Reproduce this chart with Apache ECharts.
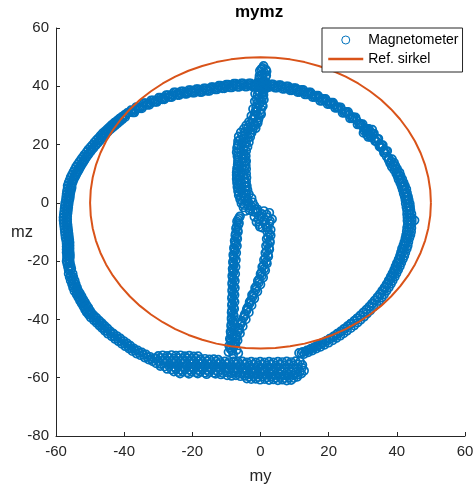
<!DOCTYPE html>
<html><head><meta charset="utf-8">
<script src="https://cdn.jsdelivr.net/npm/echarts@6/dist/echarts.min.js"></script>
<style>html,body{margin:0;padding:0;background:#fff}#c{width:476px;height:492px}</style>
</head><body><div id="c"></div>
<script>
// Magnetometer samples [my, mz], by region
const outerTop = [[-38.0,31.8],[-37.0,31.0],[-35.9,32.9],[-34.8,32.4],[-33.7,34.2],[-32.6,33.6],[-31.5,35.2],[-30.4,34.6],[-29.3,36.1],[-28.2,35.5],[-27.1,37.0],[-26.0,36.3],[-24.9,37.9],[-23.8,37.0],[-22.7,38.3],[-21.6,37.4],[-20.5,38.7],[-19.4,37.8],[-18.3,39.0],[-17.2,38.0],[-16.1,39.3],[-15.0,38.4],[-13.9,39.7],[-12.8,38.9],[-11.7,40.2],[-10.6,39.3],[-9.5,40.6],[-8.4,39.6],[-7.3,40.9],[-6.2,39.8],[-5.1,41.0],[-4.0,39.9],[-2.9,41.0],[-1.8,39.9],[-0.7,40.9],[0.4,39.8],[1.5,40.9],[2.6,39.7],[3.7,40.7],[4.8,39.5],[5.9,40.4],[7.0,39.1],[8.1,40.0],[9.2,38.6],[10.3,39.4],[11.4,38.0],[12.5,38.8],[13.6,37.2],[14.7,37.9],[15.8,36.3],[16.9,36.8],[18.0,35.0],[19.1,35.7],[20.2,33.9],[21.3,34.4],[22.4,32.6],[23.5,32.8],[24.6,30.9],[25.7,31.2],[26.8,29.0],[27.9,29.3],[29.0,26.9],[30.0,27.0],[31.0,24.6],[31.8,25.4],[32.6,22.6],[33.3,23.8],[33.9,21.2],[34.6,22.0],[35.2,19.3],[35.9,19.8],[36.5,17.2],[37.2,17.8],[31.2,23.4],[32.2,24.4],[30.6,25.6],[32.8,25.1],[31.6,22.6],[30.2,24.0]];
const outerTop2 = [[-37.45,31.0],[-36.45,32.9],[-35.35,32.4],[-34.25,34.2],[-33.15,33.6],[-32.05,35.2],[-30.95,34.6],[-29.85,36.1],[-28.75,35.5],[-27.65,37.0],[-26.55,36.3],[-25.45,37.9],[-24.35,37.0],[-23.25,38.3],[-22.15,37.4],[-21.05,38.7],[-19.95,37.8],[-18.85,39.0],[-17.75,38.0],[-16.65,39.3],[-15.55,38.4],[-14.45,39.7],[-13.35,38.9],[-12.25,40.2],[-11.15,39.3],[-10.05,40.6],[-8.95,39.6],[-7.85,40.9],[-6.75,39.8],[-5.65,41.0],[-4.55,39.9],[-3.45,41.0],[-2.35,39.9],[-1.25,40.9],[-0.15,39.8],[0.95,40.9],[2.05,39.7],[3.15,40.7],[4.25,39.5],[5.35,40.4],[6.45,39.1],[7.55,40.0],[8.65,38.6],[9.75,39.4],[10.85,38.0],[11.95,38.8],[13.05,37.2],[14.15,37.9],[15.25,36.3],[16.35,36.8],[17.45,35.0],[18.55,35.7],[19.65,33.9],[20.75,34.4],[21.85,32.6],[22.95,32.8],[24.05,30.9],[25.15,31.2],[26.25,29.0],[27.35,29.3],[28.45,26.9],[29.5,27.0],[30.5,24.6],[31.4,25.4],[32.2,22.6],[32.95,23.8],[33.6,21.2],[34.25,22.0],[34.9,19.3],[35.55,19.8],[36.2,17.2],[36.85,17.8]];
const outerTopMid = [[-37.8,31.3],[-36.7,31.9],[-35.6,32.6],[-34.5,33.1],[-33.4,33.8],[-32.3,34.3],[-31.2,34.8],[-30.1,35.2],[-29.0,35.7],[-27.9,36.1],[-26.8,36.5],[-25.7,37.0],[-24.6,37.3],[-23.5,37.6],[-22.4,37.8],[-21.3,38.0],[-20.2,38.2],[-19.1,38.4],[-18.0,38.5],[-16.9,38.7],[-15.8,38.8],[-14.7,39.1],[-13.6,39.3],[-12.5,39.5],[-11.4,39.7],[-10.3,40.0],[-9.2,40.1],[-8.1,40.2],[-7.0,40.4],[-5.9,40.4],[-4.8,40.5],[-3.7,40.5],[-2.6,40.4],[-1.5,40.5],[-0.4,40.3],[0.7,40.4],[1.8,40.3],[2.9,40.2],[4.0,40.1],[5.1,39.9],[6.2,39.8],[7.3,39.5],[8.4,39.3],[9.5,39.0],[10.6,38.8],[11.7,38.4],[12.8,38.0],[13.9,37.6],[15.0,37.2],[16.1,36.6],[17.2,36.1],[18.3,35.4],[19.4,34.9],[20.5,34.2],[21.6,33.6],[22.7,32.8],[23.8,32.0],[24.9,31.2],[26.0,30.3],[27.1,29.3],[28.2,28.3],[29.2,27.1],[30.1,26.0],[31.0,25.0],[31.8,23.9],[32.6,23.0],[33.4,22.0],[34.1,21.0],[34.8,20.0],[35.5,18.9],[36.2,17.9]];
const outerRight = [[37.0,15.9],[38.6,15.0],[38.0,13.6],[39.6,12.7],[39.2,11.3],[40.8,10.4],[40.2,9.1],[41.6,8.1],[41.0,6.8],[42.4,5.8],[41.7,4.5],[43.0,3.4],[42.3,2.2],[43.5,1.0],[42.6,-0.2],[43.9,-1.4],[43.0,-2.6],[44.3,-3.8],[43.1,-5.0],[44.4,-6.2],[45.2,-6.0],[43.2,-7.4],[44.3,-8.6],[42.9,-9.8],[44.0,-11.0],[42.5,-12.2],[43.4,-13.4],[41.9,-14.6],[42.9,-15.8],[41.2,-17.0],[42.2,-18.2],[40.5,-19.4],[41.3,-20.6],[39.6,-21.8],[40.4,-23.0],[38.7,-24.2],[39.4,-25.4],[37.6,-26.6],[38.3,-27.8],[36.4,-29.0],[37.0,-30.2],[35.0,-31.3],[35.6,-32.5],[33.5,-33.5],[34.0,-34.8],[31.9,-35.6],[32.2,-37.0],[30.2,-37.6],[30.4,-39.1],[28.4,-39.6],[28.5,-41.1],[26.5,-41.5],[26.5,-43.0],[24.6,-43.3],[24.4,-44.8],[22.6,-45.0],[22.3,-46.4],[20.5,-46.6],[20.0,-48.0],[18.3,-48.0],[17.6,-49.4],[16.0,-49.4],[15.2,-50.7],[13.6,-50.6],[12.8,-51.9],[11.3,-51.5]];
const outerRight2 = [[37.6,14.7],[39.2,13.8],[38.5,12.4],[40.1,11.6],[39.8,10.1],[41.1,9.3],[40.5,8.0],[42.0,6.9],[41.4,5.6],[42.8,4.7],[42.0,3.2],[43.3,2.1],[42.5,1.0],[43.8,-0.3],[42.8,-1.5],[44.0,-2.5],[43.0,-3.9],[44.4,-5.1],[43.1,-6.1],[44.3,-7.3],[43.0,-8.5],[44.2,-9.9],[42.7,-11.1],[43.7,-12.1],[42.2,-13.5],[43.2,-14.7],[41.5,-15.7],[42.5,-17.1],[40.9,-18.2],[41.8,-19.3],[40.0,-20.7],[40.9,-21.8],[39.2,-23.0],[39.9,-24.2],[38.2,-25.3],[38.8,-26.7],[37.0,-27.9],[37.7,-29.0],[35.7,-30.1],[36.3,-31.4],[34.3,-32.4],[34.8,-33.7],[32.7,-34.6],[33.1,-35.8],[31.1,-36.6],[31.3,-38.0],[29.3,-38.6],[29.4,-40.1],[27.5,-40.5],[27.5,-42.1],[25.6,-42.4],[25.4,-43.9],[23.6,-44.2],[23.4,-45.6],[21.6,-45.8],[21.2,-47.2],[19.4,-47.3],[18.8,-48.7],[17.2,-48.7],[16.4,-50.0],[14.8,-50.0],[14.0,-51.3],[12.4,-51.1]];
const outerRightMid = [[37.6,15.4],[38.3,14.2],[38.9,13.0],[39.5,11.8],[40.1,10.6],[40.6,9.4],[41.0,8.2],[41.5,7.0],[41.8,5.8],[42.2,4.6],[42.5,3.4],[42.8,2.2],[43.0,1.0],[43.2,-0.2],[43.4,-1.4],[43.6,-2.6],[43.7,-3.8],[43.8,-5.0],[43.8,-6.2],[43.8,-7.4],[43.7,-8.6],[43.5,-9.8],[43.3,-11.0],[43.0,-12.2],[42.7,-13.4],[42.4,-14.6],[42.1,-15.8],[41.7,-17.0],[41.3,-18.2],[40.9,-19.4],[40.5,-20.6],[40.1,-21.8],[39.6,-23.0],[39.1,-24.2],[38.5,-25.4],[37.9,-26.6],[37.3,-27.8],[36.6,-29.0],[35.9,-30.2],[35.2,-31.3],[34.4,-32.4],[33.6,-33.5],[32.8,-34.6],[32.0,-35.7],[31.1,-36.7],[30.2,-37.7],[29.3,-38.7],[28.4,-39.6],[27.5,-40.5],[26.5,-41.4],[25.5,-42.3],[24.5,-43.2],[23.5,-44.1],[22.5,-44.9],[21.4,-45.8],[20.3,-46.6],[19.2,-47.4],[18.0,-48.2],[16.8,-49.0],[15.6,-49.7],[14.4,-50.4],[13.2,-51.0],[12.0,-51.6]];
const outerLeft = [[-39.1,30.9],[-39.7,29.4],[-40.7,29.5],[-41.2,28.0],[-42.1,28.2],[-42.6,26.6],[-43.6,26.8],[-44.0,25.2],[-44.9,25.4],[-45.3,23.7],[-46.3,23.9],[-46.5,22.2],[-47.5,22.3],[-47.7,20.6],[-48.7,20.8],[-48.9,19.0],[-49.9,19.1],[-50.0,17.4],[-51.0,17.5],[-51.0,15.8],[-52.1,15.8],[-51.9,14.1],[-53.1,14.1],[-52.8,12.4],[-54.1,12.4],[-53.6,10.7],[-54.9,10.6],[-54.4,8.9],[-55.7,8.8],[-55.1,7.1],[-56.3,6.9],[-55.4,5.2],[-56.6,5.0],[-55.8,3.3],[-56.9,3.0],[-56.0,1.4],[-57.1,1.0],[-56.3,-0.6],[-57.4,-1.0],[-56.5,-2.6],[-57.6,-3.0],[-56.7,-4.6],[-57.8,-5.0],[-56.7,-6.6],[-57.7,-7.0],[-56.5,-8.6],[-57.5,-9.0],[-56.3,-10.6],[-57.3,-11.0],[-56.1,-12.6],[-57.0,-13.0],[-56.0,-14.6],[-56.9,-15.0],[-56.0,-16.6],[-56.9,-17.0],[-55.9,-18.6],[-56.8,-19.0],[-55.9,-20.6],[-56.7,-21.0],[-55.5,-22.6],[-56.3,-23.0]];
const outerLeft2 = [[-39.9,30.2],[-40.5,28.7],[-41.4,28.9],[-41.9,27.3],[-42.9,27.5],[-43.3,25.9],[-44.2,26.1],[-44.7,24.5],[-45.6,24.6],[-45.9,22.9],[-46.9,23.1],[-47.1,21.4],[-48.1,21.6],[-48.3,19.8],[-49.3,19.9],[-49.5,18.2],[-50.5,18.3],[-50.5,16.6],[-51.6,16.6],[-51.5,14.9],[-52.6,15.0],[-52.4,13.2],[-53.6,13.3],[-53.2,11.5],[-54.5,11.5],[-54.0,9.8],[-55.3,9.7],[-54.8,8.0],[-56.0,7.8],[-55.4,6.1],[-56.6,5.9],[-55.6,4.2],[-56.8,4.0],[-55.9,2.3],[-57.0,2.0],[-56.2,0.4],[-57.3,0.0],[-56.4,-1.6],[-57.5,-2.0],[-56.6,-3.6],[-57.7,-4.0],[-56.7,-5.6],[-57.8,-6.0],[-56.6,-7.6],[-57.6,-8.0],[-56.4,-9.6],[-57.4,-10.0],[-56.2,-11.6],[-57.2,-12.0],[-56.0,-13.6],[-56.9,-14.0],[-56.0,-15.6],[-56.9,-16.0],[-55.9,-17.6],[-56.8,-18.0],[-56.0,-19.6],[-56.9,-20.0],[-55.7,-21.6],[-56.5,-22.0]];
const outerLeftMid = [[-38.6,31.0],[-39.5,30.2],[-40.4,29.4],[-41.3,28.5],[-42.2,27.6],[-43.0,26.7],[-43.9,25.7],[-44.8,24.7],[-45.6,23.8],[-46.3,22.8],[-47.0,21.8],[-47.7,20.8],[-48.4,19.8],[-49.1,18.8],[-49.8,17.8],[-50.5,16.8],[-51.1,15.8],[-51.7,14.7],[-52.3,13.7],[-52.9,12.6],[-53.4,11.5],[-53.9,10.4],[-54.4,9.3],[-54.9,8.2],[-55.3,7.0],[-55.6,5.8],[-55.9,4.6],[-56.1,3.4],[-56.3,2.2],[-56.4,1.0],[-56.6,-0.2],[-56.7,-1.4],[-56.8,-2.6],[-56.9,-3.8],[-57.0,-5.0],[-57.0,-6.2],[-56.9,-7.4],[-56.8,-8.6],[-56.7,-9.8],[-56.6,-11.0],[-56.5,-12.2],[-56.4,-13.4],[-56.4,-14.6],[-56.4,-15.8],[-56.4,-17.0],[-56.3,-18.2],[-56.2,-19.4],[-56.1,-20.6],[-55.9,-21.8],[-55.8,-23.0]];
const lowerLeft = [[-56.3,-24.3],[-54.9,-25.5],[-55.7,-26.7],[-54.2,-27.9],[-55.0,-29.1],[-53.5,-30.1],[-54.0,-31.4],[-52.5,-32.0],[-53.0,-33.5],[-51.5,-34.1],[-52.0,-35.5],[-50.5,-36.0],[-51.0,-37.6],[-49.6,-37.8],[-49.8,-39.4],[-48.1,-39.5],[-48.1,-41.2],[-46.5,-41.3],[-46.5,-43.0],[-44.9,-43.1],[-44.8,-44.9],[-43.1,-44.9],[-42.7,-46.7],[-41.1,-46.5],[-40.7,-48.4],[-39.1,-48.2],[-38.6,-50.0],[-37.2,-49.9],[-36.4,-51.7],[-34.8,-51.3],[-34.0,-53.1],[-32.4,-52.8],[-31.6,-54.4]];
const lowerLeft2 = [[-55.1,-24.3],[-56.0,-25.5],[-54.5,-26.7],[-55.3,-27.9],[-53.8,-29.1],[-54.6,-30.3],[-53.0,-31.0],[-53.5,-32.4],[-52.0,-33.1],[-52.5,-34.5],[-51.0,-35.1],[-51.5,-36.6],[-50.0,-37.0],[-50.4,-38.4],[-48.9,-38.6],[-48.9,-40.3],[-47.3,-40.4],[-47.3,-42.1],[-45.7,-42.2],[-45.7,-43.9],[-44.0,-44.1],[-43.7,-45.8],[-42.1,-45.7],[-41.7,-47.5],[-40.1,-47.4],[-39.7,-49.2],[-38.2,-49.0],[-37.6,-50.9],[-36.0,-50.6],[-35.2,-52.3],[-33.6,-52.0],[-32.8,-53.8],[-31.2,-53.4]];
const lowerLeftMid = [[-55.6,-24.9],[-55.3,-26.1],[-54.9,-27.3],[-54.6,-28.5],[-54.2,-29.6],[-53.8,-30.7],[-53.3,-31.7],[-52.8,-32.7],[-52.3,-33.8],[-51.8,-34.8],[-51.3,-35.8],[-50.8,-36.8],[-50.3,-37.7],[-49.7,-38.5],[-48.9,-39.4],[-48.1,-40.3],[-47.3,-41.2],[-46.5,-42.1],[-45.7,-43.0],[-44.9,-44.0],[-43.9,-44.9],[-42.9,-45.8],[-41.9,-46.6],[-40.9,-47.4],[-39.9,-48.3],[-38.9,-49.1],[-37.9,-50.0],[-36.8,-50.7],[-35.6,-51.4],[-34.4,-52.1],[-33.2,-52.9],[-32.0,-53.6]];
const bottomBand = [[-30.0,-52.5],[-28.7,-52.3],[-27.4,-52.5],[-26.1,-52.2],[-24.8,-52.4],[-23.5,-52.3],[-22.2,-52.6],[-20.9,-52.4],[-19.6,-52.7],[-18.3,-52.6],
[-30.6,-53.3],[-29.3,-53.2],[-28.0,-53.4],[-26.7,-53.2],[-25.4,-53.4],[-24.1,-53.3],[-22.8,-53.5],[-21.5,-53.3],[-20.2,-53.5],[-18.9,-53.4],[-17.6,-53.6],[-16.3,-53.5],[-15.0,-53.7],[-13.7,-53.6],[-12.4,-53.8],
[-30.0,-54.3],[-28.7,-54.1],[-27.4,-54.4],[-26.1,-54.2],[-24.8,-54.4],[-23.5,-54.2],[-22.2,-54.4],[-20.9,-54.2],[-19.6,-54.5],[-18.3,-54.3],[-17.0,-54.5],[-15.7,-54.3],[-14.4,-54.6],[-13.1,-54.4],[-11.8,-54.6],[-10.5,-54.4],[-9.2,-54.6],[-7.9,-54.4],[-6.6,-54.6],[-5.3,-54.4],[-4.0,-54.7],[-2.7,-54.5],[-1.4,-54.7],[-0.1,-54.5],[1.2,-54.7],[2.5,-54.5],[3.8,-54.7],[5.1,-54.5],[6.4,-54.6],[7.7,-54.4],[9.0,-54.6],[10.3,-54.3],[11.6,-54.5],
[-30.6,-55.1],[-29.3,-55.3],[-28.0,-55.0],[-26.7,-55.3],[-25.4,-55.1],[-24.1,-55.3],[-22.8,-55.1],[-21.5,-55.4],[-20.2,-55.2],[-18.9,-55.4],[-17.6,-55.2],[-16.3,-55.5],[-15.0,-55.3],[-13.7,-55.5],[-12.4,-55.3],[-11.1,-55.5],[-9.8,-55.3],[-8.5,-55.6],[-7.2,-55.4],[-5.9,-55.6],[-4.6,-55.4],[-3.3,-55.7],[-2.0,-55.5],[-0.7,-55.7],[0.6,-55.5],[1.9,-55.7],[3.2,-55.5],[4.5,-55.8],[5.8,-55.5],[7.1,-55.7],[8.4,-55.5],[9.7,-55.7],[11.0,-55.4],[12.3,-55.6],
[-29.4,-56.0],[-28.1,-56.2],[-26.8,-56.0],[-25.5,-56.3],[-24.2,-56.1],[-22.9,-56.3],[-21.6,-56.1],[-20.3,-56.4],[-19.0,-56.2],[-17.7,-56.4],[-16.4,-56.2],[-15.1,-56.5],[-13.8,-56.3],[-12.5,-56.5],[-11.2,-56.3],[-9.9,-56.6],[-8.6,-56.4],[-7.3,-56.6],[-6.0,-56.4],[-4.7,-56.7],[-3.4,-56.5],[-2.1,-56.7],[-0.8,-56.5],[0.5,-56.8],[1.8,-56.6],[3.1,-56.8],[4.4,-56.6],[5.7,-56.9],[7.0,-56.7],[8.3,-56.9],[9.6,-56.6],[10.9,-56.8],[12.2,-56.5],
[-27.4,-57.0],[-26.1,-57.2],[-24.8,-57.0],[-23.5,-57.3],[-22.2,-57.1],[-20.9,-57.3],[-19.6,-57.1],[-18.3,-57.4],[-17.0,-57.2],[-15.7,-57.4],[-14.4,-57.2],[-13.1,-57.5],[-11.8,-57.3],[-10.5,-57.5],[-9.2,-57.3],[-7.9,-57.6],[-6.6,-57.4],[-5.3,-57.7],[-4.0,-57.5],[-2.7,-57.8],[-1.4,-57.6],[-0.1,-57.9],[1.2,-57.7],[2.5,-58.0],[3.8,-57.8],[5.1,-58.1],[6.4,-57.9],[7.7,-58.2],[9.0,-58.0],[10.3,-58.2],[11.6,-57.9],[12.8,-57.6],
[-25.4,-57.9],[-24.1,-58.1],[-22.8,-57.9],[-21.5,-58.2],[-20.2,-58.0],[-18.9,-58.2],[-17.6,-58.0],[-16.3,-58.3],[-15.0,-58.1],[-13.7,-58.3],[-12.4,-58.1],[-11.1,-58.4],[-9.8,-58.2],[-8.5,-58.5],[-7.2,-58.3],[-5.9,-58.6],[-4.6,-58.5],[-3.3,-58.8],[-2.0,-58.6],[-0.7,-58.9],[0.6,-58.7],[1.9,-59.0],[3.2,-58.8],[4.5,-59.1],[5.8,-58.9],[7.1,-59.2],[8.4,-59.0],[9.7,-59.2],[11.0,-58.9],[12.0,-58.6],
[-23.6,-58.6],[-21.0,-58.7],[-18.4,-58.6],[-15.8,-58.8],[-13.2,-58.7],[-11.6,-58.9],
[-9.8,-59.2],[-8.5,-59.4],[-7.2,-59.2],[-5.9,-59.5],[-4.6,-59.4],[-3.3,-59.7],[-2.0,-59.5],[-0.7,-59.8],[0.6,-59.6],[1.9,-59.9],[3.2,-59.7],[4.5,-60.0],[5.8,-59.8],[7.1,-60.1],[8.4,-59.9],[9.7,-60.1],[10.8,-59.7],
[-4.0,-60.3],[-2.7,-60.5],[-1.4,-60.4],[-0.1,-60.7],[1.2,-60.5],[2.5,-60.8],[3.8,-60.6],[5.1,-60.9],[6.4,-60.7],[7.7,-61.0],[9.0,-60.8]];
const innerColumn = [[0.6,46.3],[1.6,45.7],[-0.2,45.3],[1.2,44.6],[0.2,43.9],[1.5,43.2],[-0.4,42.6],[1.0,41.9],[-0.6,41.2],[1.3,40.5],[-0.4,39.8],[1.0,39.1],[-0.7,38.4],[0.8,37.7],[-0.9,37.0],[0.6,36.3],[-1.1,35.6],[0.4,34.9],[-1.0,34.2],[0.5,33.5],[-1.3,32.8],[0.2,32.1],[-1.5,31.4],[-0.1,30.7],[-1.8,30.0],[-0.5,29.3],[-2.4,28.6],[-1.0,27.9],[-3.0,27.2],[-1.6,26.5],[-3.7,25.8],[-2.3,25.1],[-4.5,24.4],[-3.0,23.7],[-5.3,23.0],[-3.6,22.3],[-6.0,21.6],[-4.2,20.9],[-6.6,20.2],[-4.6,19.5],[-6.9,18.8],[-4.9,18.1],[-7.0,17.4],[-5.0,16.7],[-6.8,16.0],[-4.6,15.3],[-6.6,14.6],[-4.4,13.9],[-6.7,13.2],[-4.5,12.5],[-6.9,11.8],[-4.8,11.1],[-7.0,10.4],[-4.9,9.7],[-6.9,9.0],[-4.7,8.3],[-6.8,7.6],[-4.6,6.9],[-6.6,6.2],[-4.4,5.5],[-6.5,4.8],[-4.3,4.1],[-6.3,3.4],[-4.2,2.7],[-5.8,2.0],[-3.8,1.3],[-5.4,0.6],[-3.4,-0.1],[-4.8,-0.8],[-2.6,-1.2],[-1.6,-2.2],[-3.2,-2.6],[-1.2,-3.4]];
const innerColumn2 = [[0.9,47.0],[0.2,45.9],[1.8,45.1],[0.6,44.3],[-0.3,43.6],[1.7,43.7],[0.4,42.3],[1.6,41.4],[0.2,40.6],[-1.2,40.0],[0.4,39.3],[1.2,38.8],[-0.2,38.0],[-1.6,37.4],[0.9,37.0],[-0.4,36.0],[1.0,35.4],[-1.7,34.8],[-0.3,34.0],[0.7,33.2],[-0.8,32.5],[-2.2,32.2],[-1.2,31.2],[0.2,30.4],[-1.6,29.6],[-2.7,29.8],[-2.2,28.6],[-0.6,28.6],[-3.4,27.8],[-1.8,27.0],[-0.8,27.4],[-4.2,26.6],[-2.8,26.0],[-4.9,25.4],[-1.4,25.6],[-3.8,24.6],[-5.8,24.2],[-2.6,24.0],[-4.6,23.4],[-6.4,22.8],[-3.0,22.6],[-5.0,21.9],[-6.6,21.2],[-3.4,20.8],[-5.4,20.3],[-6.7,19.6],[-3.8,19.2],[-5.8,18.6],[-4.2,17.8],[-6.6,17.2],[-5.6,16.6],[-4.3,16.1],[-6.5,15.6],[-5.3,15.0],[-4.2,14.4],[-6.6,14.0],[-5.5,13.6],[-4.3,12.9],[-6.7,12.6],[-5.6,12.0],[-4.2,11.6],[-6.8,11.0],[-5.7,10.4],[-4.2,10.0],[-7.0,9.6],[-5.8,9.0],[-4.1,8.6],[-7.0,8.2],[-5.7,7.4],[-4.2,7.2],[-6.9,6.8],[-5.6,6.4],[-4.0,5.8],[-6.8,5.4],[-5.4,4.6],[-3.8,4.4],[-6.6,4.0],[-5.0,3.4],[-3.4,3.0],[-6.4,2.6],[-4.6,1.8],[-2.6,1.6],[-6.0,1.2],[-4.0,0.6],[-2.3,0.2],[-5.6,-0.2],[-3.6,-0.9],[-1.8,-1.0],[-5.0,-1.6],[-3.0,-2.0],[-0.9,-2.2],[-4.4,-2.8],[-2.2,-3.0]];
const innerBlob = [[-0.8,-3.0],[1.0,-2.8],[2.6,-3.4],[-1.8,-4.8],[0.2,-4.6],[2.0,-5.0],[3.4,-5.6],[-1.2,-6.6],[0.8,-6.4],[2.6,-7.0],[-0.2,-8.2],[1.8,-8.4],[3.0,-9.2],[0.4,-3.8],[1.8,-4.0],[-0.6,-5.6],[1.2,-5.8],[2.8,-6.2],[-0.4,-7.4],[1.4,-7.4],[2.2,-8.6],[0.6,-8.6]];
const rightBranch = [[2.6,-10.6],[2.2,-11.8],[2.7,-13.0],[2.1,-14.2],[2.5,-15.4],[1.8,-16.6],[2.2,-17.8],[1.4,-19.0],[1.7,-20.2],[0.9,-21.4],[1.1,-22.6],[0.3,-23.8],[0.4,-25.0],[-0.4,-26.2],[-0.5,-27.4],[-1.2,-28.6],[-1.4,-29.8],[-2.0,-31.0],[-2.3,-32.2],[-2.8,-33.4],[-3.2,-34.6],[-3.7,-35.8],[-4.1,-37.0],[-4.6,-38.2],[-5.0,-39.4],[-5.5,-40.6],[-5.9,-41.8],[-6.3,-43.0],[-6.6,-44.2],[-7.0,-45.4],[-7.2,-46.6],[-7.5,-47.8],[-7.7,-49.0]];
const rightBranch2 = [[2.0,-10.0],[3.0,-11.2],[1.8,-12.4],[2.8,-13.6],[1.6,-14.8],[2.6,-16.0],[1.4,-17.2],[2.3,-18.4],[1.0,-19.6],[1.9,-20.8],[0.5,-22.0],[1.4,-23.2],[0.0,-24.4],[0.8,-25.6],[-0.8,-26.8],[0.0,-28.0],[-1.6,-29.2],[-0.9,-30.4],[-2.5,-31.6],[-1.8,-32.8],[-3.2,-34.0],[-2.6,-35.2],[-4.0,-36.4],[-3.4,-37.6],[-4.7,-38.8],[-4.3,-40.0],[-5.6,-41.2],[-5.2,-42.4],[-6.3,-43.6],[-6.0,-44.8],[-7.0,-46.0],[-6.7,-47.2],[-7.3,-48.4]];
const leftBranch = [[-6.0,-4.6],[-6.6,-5.8],[-6.3,-7.0],[-7.0,-8.2],[-6.7,-9.4],[-7.3,-10.6],[-7.0,-11.8],[-7.6,-13.0],[-7.3,-14.2],[-7.8,-15.4],[-7.5,-16.6],[-8.0,-17.8],[-7.7,-19.0],[-8.1,-20.2],[-7.8,-21.4],[-8.2,-22.6],[-7.9,-23.8],[-8.3,-25.0],[-7.9,-26.2],[-8.3,-27.4],[-7.9,-28.6],[-8.3,-29.8],[-7.9,-31.0],[-8.3,-32.2],[-7.9,-33.4],[-8.3,-34.6],[-7.9,-35.8],[-8.4,-37.0],[-8.0,-38.2],[-8.5,-39.4],[-8.1,-40.6],[-8.6,-41.8],[-8.3,-43.0],[-8.8,-44.2],[-8.4,-45.4],[-9.0,-46.6],[-8.6,-47.8],[-9.2,-49.0],[-8.8,-50.2],[-9.4,-51.2],[-7.0,-50.5],[-6.5,-51.6],[-8.0,-52.0]];
const leftBranch2 = [[-6.3,-5.2],[-6.9,-6.4],[-6.5,-7.6],[-7.2,-8.8],[-6.6,-10.0],[-7.4,-11.2],[-6.8,-12.4],[-7.5,-13.6],[-6.9,-14.8],[-7.7,-16.0],[-7.1,-17.2],[-7.9,-18.4],[-7.2,-19.6],[-8.0,-20.8],[-7.3,-22.0],[-8.1,-23.2],[-7.4,-24.4],[-8.2,-25.6],[-7.5,-26.8],[-8.3,-28.0],[-7.5,-29.2],[-8.3,-30.4],[-7.6,-31.6],[-8.4,-32.8],[-7.6,-34.0],[-8.4,-35.2],[-7.7,-36.4],[-8.5,-37.6],[-7.8,-38.8],[-8.5,-40.0],[-7.9,-41.2],[-8.6,-42.4],[-8.0,-43.6],[-8.7,-44.8],[-8.1,-46.0],[-8.8,-47.2],[-8.2,-48.4],[-8.9,-49.6],[-8.3,-50.8]];
// Reference circle (radius 50) vertices every 5 degrees
const refCircle = [[50,0],[49.81,4.36],[49.24,8.68],[48.3,12.94],[46.98,17.1],[45.32,21.13],[43.3,25],[40.96,28.68],[38.3,32.14],[35.36,35.36],[32.14,38.3],[28.68,40.96],[25,43.3],[21.13,45.32],[17.1,46.98],[12.94,48.3],[8.68,49.24],[4.36,49.81],[0,50],[-4.36,49.81],[-8.68,49.24],[-12.94,48.3],[-17.1,46.98],[-21.13,45.32],[-25,43.3],[-28.68,40.96],[-32.14,38.3],[-35.36,35.36],[-38.3,32.14],[-40.96,28.68],[-43.3,25],[-45.32,21.13],[-46.98,17.1],[-48.3,12.94],[-49.24,8.68],[-49.81,4.36],[-50,0],[-49.81,-4.36],[-49.24,-8.68],[-48.3,-12.94],[-46.98,-17.1],[-45.32,-21.13],[-43.3,-25],[-40.96,-28.68],[-38.3,-32.14],[-35.36,-35.36],[-32.14,-38.3],[-28.68,-40.96],[-25,-43.3],[-21.13,-45.32],[-17.1,-46.98],[-12.94,-48.3],[-8.68,-49.24],[-4.36,-49.81],[0,-50],[4.36,-49.81],[8.68,-49.24],[12.94,-48.3],[17.1,-46.98],[21.13,-45.32],[25,-43.3],[28.68,-40.96],[32.14,-38.3],[35.36,-35.36],[38.3,-32.14],[40.96,-28.68],[43.3,-25],[45.32,-21.13],[46.98,-17.1],[48.3,-12.94],[49.24,-8.68],[49.81,-4.36],[50,0]];
const xTicks = {min: -60, max: 60, step: 20};
const yTicks = {min: -80, max: 60, step: 20};

const magData = [].concat(outerTop, outerTop2, outerTopMid, outerRight, outerRight2, outerRightMid,
  outerLeft, outerLeft2, outerLeftMid, lowerLeft, lowerLeft2, lowerLeftMid, bottomBand,
  innerColumn, innerColumn2, innerBlob, rightBranch, rightBranch2, leftBranch, leftBranch2);
const FONT = 'Liberation Sans, Arial, Helvetica, sans-serif';
const AX = '#262626';

const chart = echarts.init(document.getElementById('c'), null, {renderer: 'canvas'});
chart.setOption({
  animation: false,
  backgroundColor: '#fff',
  textStyle: {fontFamily: FONT},
  title: {text: 'mymz', left: 235, top: 4, padding: 0,
    textStyle: {fontFamily: FONT, fontSize: 17, fontWeight: 'bold', color: '#000'}},
  grid: {left: 56, right: 11, top: 28, bottom: 56, containLabel: false, outerBoundsMode: 'none'},
  legend: {
    orient: 'vertical', left: 322, top: 28, padding: [5, 4, 6, 5], itemGap: 5,
    itemWidth: 35, itemHeight: 8, backgroundColor: '#fff', borderColor: AX, borderWidth: 1, borderRadius: 0,
    textStyle: {fontFamily: FONT, fontSize: 14, color: '#000'},
    data: [
      {name: 'Magnetometer', icon: 'circle', itemStyle: {color: 'rgba(0,0,0,0)', borderColor: '#0072BD', borderWidth: 1}},
      {name: 'Ref. sirkel', itemStyle: {color: 'rgba(0,0,0,0)', borderColor: 'rgba(0,0,0,0)', borderWidth: 0, opacity: 0},
        lineStyle: {color: '#D95319', width: 2.5}}
    ]
  },
  xAxis: {
    type: 'value', min: xTicks.min, max: xTicks.max, interval: xTicks.step,
    name: 'my', nameLocation: 'middle', nameGap: 32, nameMoveOverlap: false,
    nameTextStyle: {fontFamily: FONT, fontSize: 16.5, color: AX},
    axisLine: {show: true, onZero: false, lineStyle: {color: AX, width: 1}},
    axisTick: {show: true, inside: true, length: 4, lineStyle: {color: AX}},
    axisLabel: {color: AX, fontSize: 15, margin: 8, fontFamily: FONT},
    splitLine: {show: false}
  },
  yAxis: {
    type: 'value', min: yTicks.min, max: yTicks.max, interval: yTicks.step,
    name: 'mz', nameLocation: 'middle', nameGap: 23, nameRotate: 0, nameMoveOverlap: false,
    nameTextStyle: {fontFamily: FONT, fontSize: 16.5, color: AX, padding: [0, 0, 22, 0]},
    axisLine: {show: true, onZero: false, lineStyle: {color: AX, width: 1}},
    axisTick: {show: true, inside: true, length: 4, lineStyle: {color: AX}},
    axisLabel: {color: AX, fontSize: 15, margin: 7, fontFamily: FONT},
    splitLine: {show: false}
  },
  series: [
    {name: 'Magnetometer', type: 'scatter', data: magData, symbol: 'circle', symbolSize: 8, silent: true,
      progressive: 0, large: false,
      itemStyle: {color: 'rgba(0,0,0,0)', borderColor: '#0072BD', borderWidth: 1.7, opacity: 1}},
    {name: 'Ref. sirkel', type: 'line', data: refCircle, symbol: 'none', showSymbol: false, smooth: false, silent: true,
      lineStyle: {color: '#D95319', width: 2}, itemStyle: {color: '#D95319'}}
  ]
});
</script></body></html>
